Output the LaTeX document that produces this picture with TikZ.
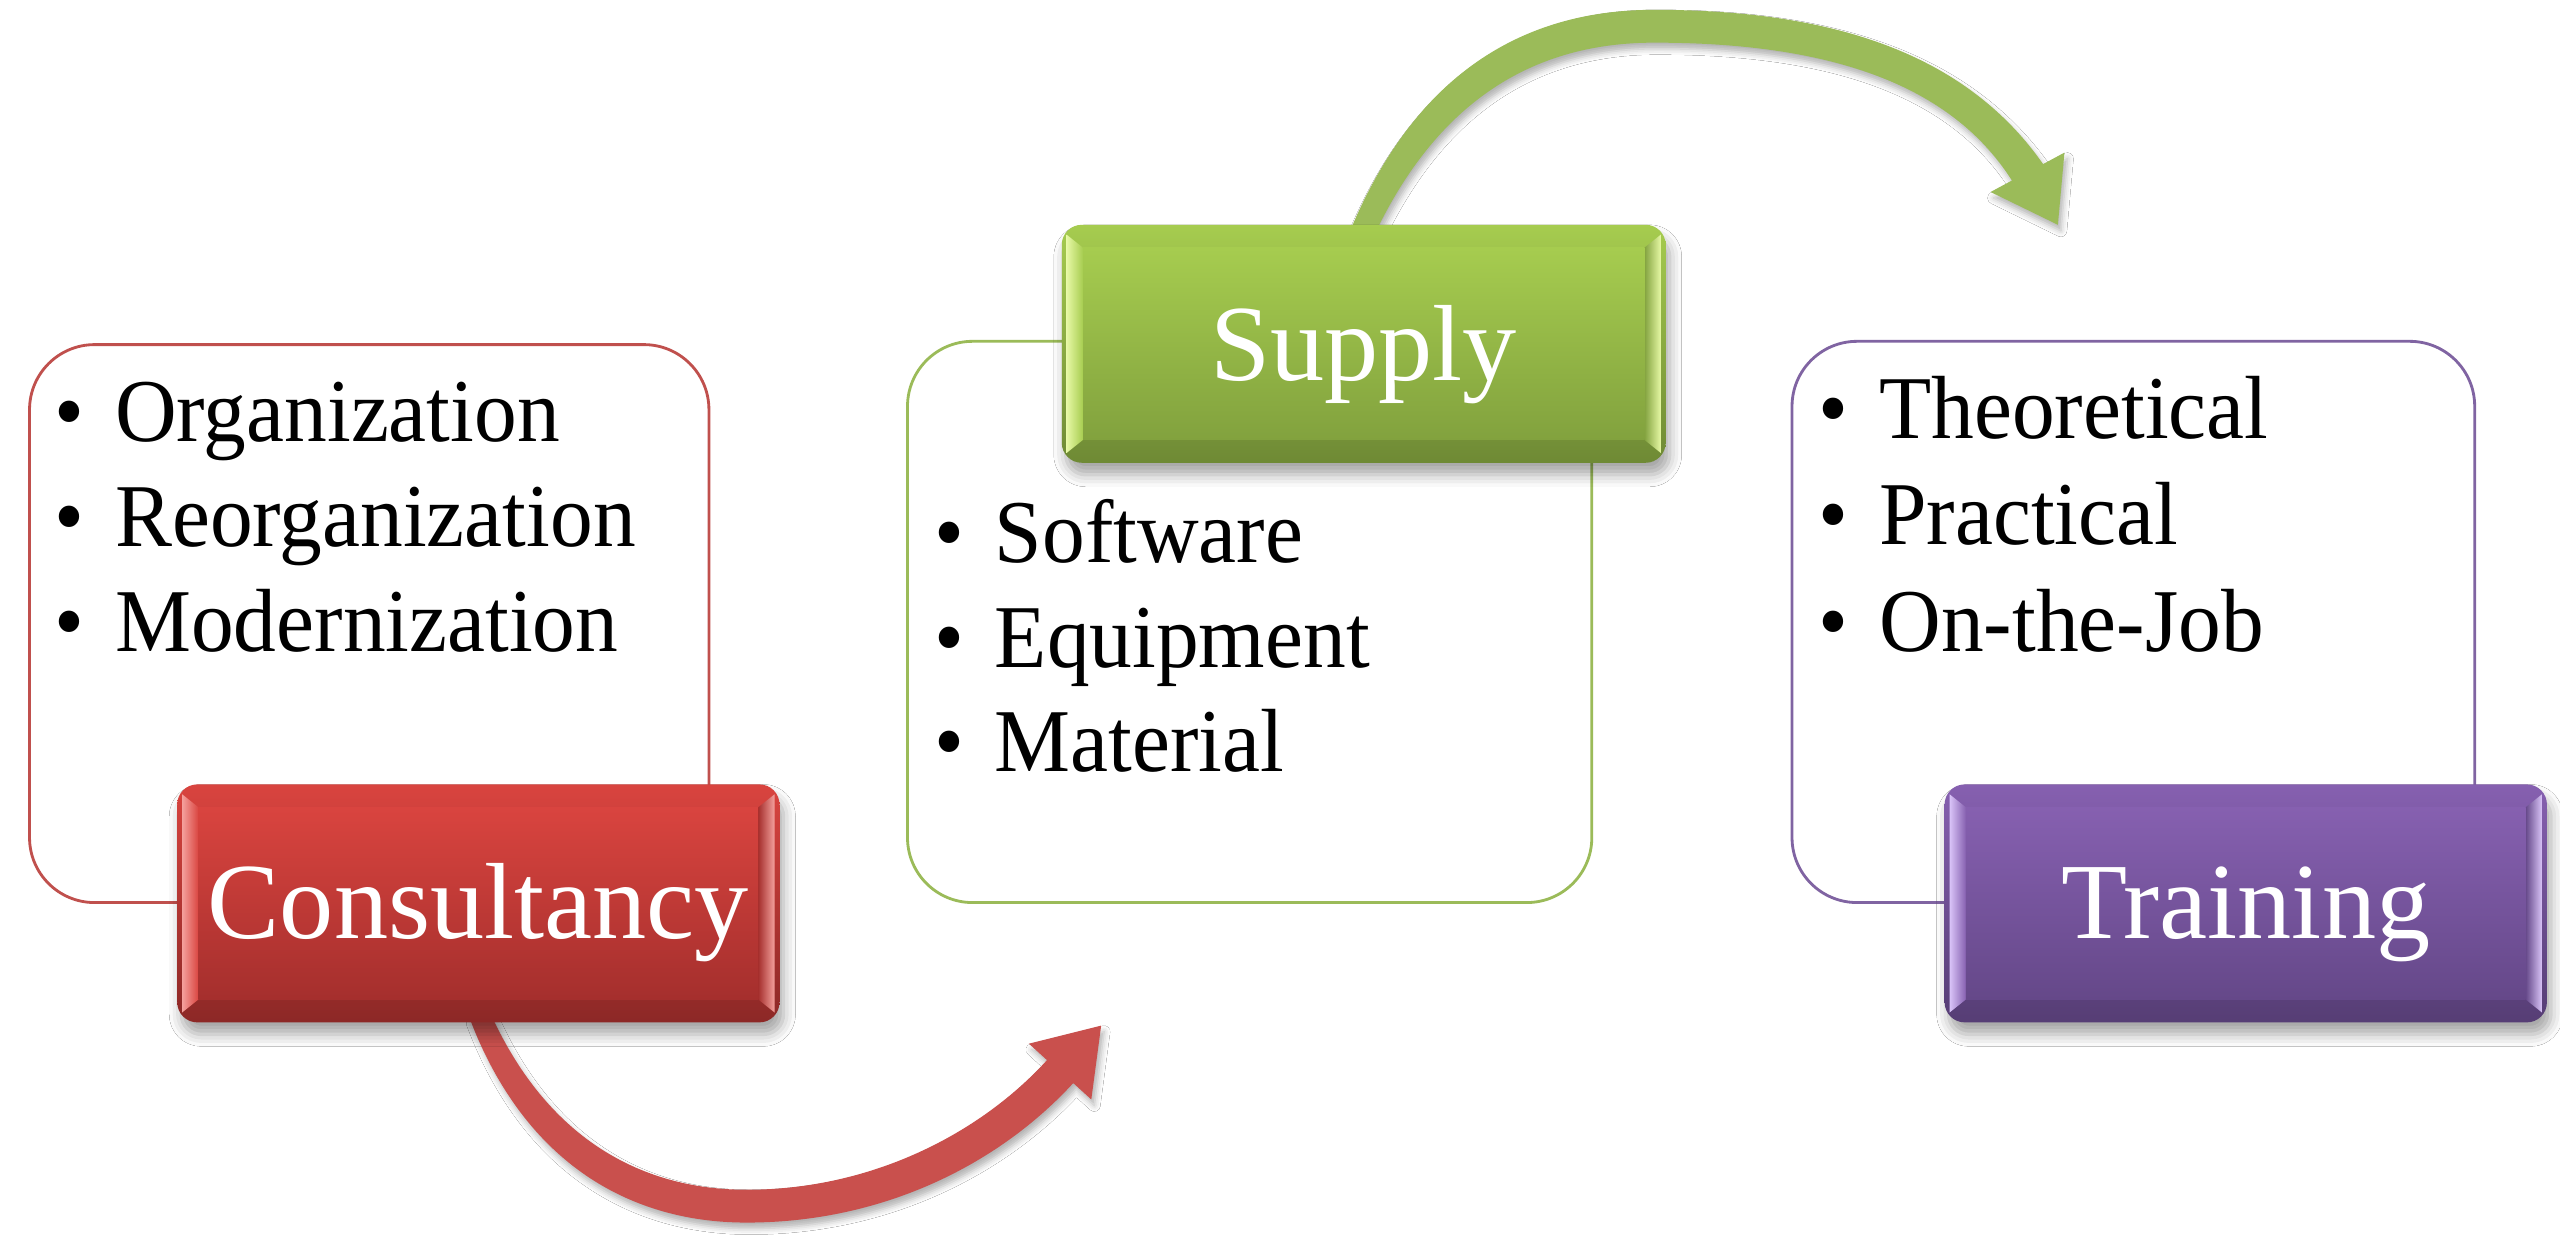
\documentclass[tikz,border=0pt]{standalone}
\usepackage{fontspec}
\setmainfont{Liberation Serif}
\usetikzlibrary{shadows.blur}

\definecolor{consline}{HTML}{C0504D}
\definecolor{constop}{HTML}{D9443F}
\definecolor{consbot}{HTML}{A52F2D}
\definecolor{conslite}{HTML}{F4A09C}
\definecolor{consarrow}{HTML}{C9504D}
\definecolor{supline}{HTML}{9BBB59}
\definecolor{suptop}{HTML}{A6CC4F}
\definecolor{supbot}{HTML}{82A23E}
\definecolor{suplite}{HTML}{E6F8A4}
\definecolor{suparrow}{HTML}{9BBB59}
\definecolor{trnline}{HTML}{8064A2}
\definecolor{trntop}{HTML}{8660B0}
\definecolor{trnbot}{HTML}{654889}
\definecolor{trnlite}{HTML}{D9C4F8}

\tikzset{
	listbox/.style={line width=0.8pt, fill=white, rounded corners=6.5mm},
	bulletitem/.style={anchor=base west, inner sep=0pt, font=\fontsize{24.3}{29}\selectfont},
	boxlabel/.style={anchor=base, inner sep=0pt, text=white, font=\fontsize{30.8}{37}\selectfont},
	boxshadow/.style={blur shadow={shadow xshift=0.4mm, shadow yshift=-1.2mm, shadow blur radius=1.2mm, shadow opacity=35}},
	arrowshadow/.style={blur shadow={shadow xshift=0.3mm, shadow yshift=-0.6mm, shadow blur radius=0.6mm, shadow opacity=30}}
}
\def\bul#1{\scalebox{1}[1.05]{\makebox[6.05mm][l]{\textbullet}#1}}
\def\bevelbox[#1](#2,#3)(#4,#5){
	\path[boxshadow, top color=#1top, bottom color=#1bot!85!black, rounded corners=2mm] (#2,#3) rectangle (#4,#5);
	\shade[left color=#1lite, right color=#1top] (#2+3,#3+6) -- (#2+13,#3+14) -- (#2+13,#5-14) -- (#2+3,#5-6) -- cycle;
	\shade[left color=#1bot, right color=#1lite] (#4-13,#3+14) -- (#4-3,#3+6) -- (#4-3,#5-6) -- (#4-13,#5-14) -- cycle;
	\shade[top color=#1top, bottom color=#1bot] (#2+13,#3+14) rectangle (#4-13,#5-14);
}

\begin{document}
\begin{tikzpicture}[x=0.1641mm, y=-0.1641mm]
		%%%%% START %%%%%
		
		\fill[white] (0,0) rectangle (1560,753);
		\useasboundingbox (0,0) rectangle (1560,753);
		
		\draw[listbox, draw=consline] (18,210) rectangle (432,550);
		\draw[listbox, draw=supline] (553,208) rectangle (970,550);
		\draw[listbox, draw=trnline] (1092,208) rectangle (1508,550);
		
		\fill[consarrow, arrowshadow] (286,620) .. controls (318,705) and (380,745) .. (455,745) .. controls (540,745) and (610,708) .. (654,660) -- (665,670) -- (671,625) -- (627,636) -- (638,646) .. controls (598,690) and (532,725) .. (455,725) .. controls (392,725) and (335,695) .. (300,620) -- cycle;
		\fill[suparrow, arrowshadow] (823,140) .. controls (862,47) and (926,6) .. (1008,6) .. controls (1112,6) and (1196,30) .. (1245,100) -- (1258,93) -- (1254,137) -- (1213,117) -- (1226,110) .. controls (1186,47) and (1106,26) .. (1008,26) .. controls (936,26) and (878,60) .. (839,140) -- cycle;
		
		\bevelbox[cons](108,478)(475,623)
		\bevelbox[sup](647,137)(1015,282)
		\bevelbox[trn](1185,478)(1552,623)
		
		\node[boxlabel] (cons) at (291.5,572) {Consultancy};
		\node[boxlabel] (sup) at (831,232) {Supply};
		\node[boxlabel] (trn) at (1368.5,572) {Training};
		
		\node[bulletitem] (org) at (33,269) {\bul{Organization}};
		\node[bulletitem] (reorg) at (33,333) {\bul{Reorganization}};
		\node[bulletitem] (modern) at (33,397) {\bul{Modernization}};
		
		\node[bulletitem] (soft) at (569,343) {\bul{Software}};
		\node[bulletitem] (equip) at (569,407) {\bul{Equipment}};
		\node[bulletitem] (mat) at (569,470) {\bul{Material}};
		
		\node[bulletitem] (theo) at (1108,267) {\bul{Theoretical}};
		\node[bulletitem] (prac) at (1108,332) {\bul{Practical}};
		\node[bulletitem] (job) at (1108,397) {\bul{On-the-Job}};
		
		%%%%% END %%%%%
\end{tikzpicture}
\end{document}
